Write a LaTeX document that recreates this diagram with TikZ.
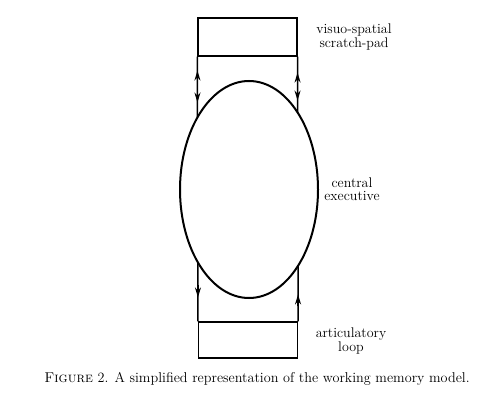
\documentclass[tikz,border=0pt]{standalone}
\usetikzlibrary{arrows.meta,shapes.geometric,intersections,calc}
\begin{document}
\begin{tikzpicture}[x=1pt,y=-1pt,
  boxstyle/.style={draw,line width=1.1pt,minimum width=99pt,minimum height=38pt,inner sep=0pt},
  wire/.style={line width=1.5pt},
  tipline/.style={line width=1.5pt,-{Stealth[length=10pt,width=6pt]}},
  lab/.style={font=\fontsize{14}{13.5}\selectfont,align=center}]
\useasboundingbox (0,0) rectangle (478,403);
% central executive
\node[draw,ellipse,line width=2pt,minimum width=138pt,minimum height=217pt,inner sep=0pt,name path=ce] (ce) at (249,189.5) {};
% boxes
\node[boxstyle] (vs) at (247.5,37) {};
\node[boxstyle,minimum height=36pt] (al) at (248,340) {};
% intersections with the ellipse
\path[name path=ltop] (vs.south west) -- ++(0,90);
\path[name path=rtop] (vs.south east) -- ++(0,90);
\path[name path=lbot] (al.north west) -- ++(0,-90);
\path[name path=rbot] (al.north east) -- ++(0,-90);
\path[name intersections={of=ce and ltop,by=ilt}];
\path[name intersections={of=ce and rtop,by=irt}];
\path[name intersections={of=ce and lbot,by=ilb}];
\path[name intersections={of=ce and rbot,by=irb}];
% arrow tip points
\coordinate (ltu) at ($(vs.south west)+(0,14)$);
\coordinate (ltd) at ($(vs.south west)+(0,46)$);
\coordinate (rtu) at ($(vs.south east)+(0,16)$);
\coordinate (rtd) at ($(vs.south east)+(0,44)$);
\coordinate (lbd) at ($(al.north west)+(0,-24)$);
\coordinate (rbu) at ($(al.north east)+(0,-27)$);
% connectors
\draw[wire] (vs.south west) -- (ilt);
\draw[wire] (vs.south east) -- (irt);
\draw[wire] (ilb) -- (al.north west);
\draw[wire] (al.north east) -- (irb);
% arrowheads
\draw[tipline] ($(ltu)+(0,12)$) -- (ltu);
\draw[tipline] ($(ltd)+(0,-12)$) -- (ltd);
\draw[tipline] ($(rtu)+(0,12)$) -- (rtu);
\draw[tipline] ($(rtd)+(0,-12)$) -- (rtd);
\draw[tipline] ($(lbd)+(0,-12)$) -- (lbd);
\draw[tipline] ($(rbu)+(0,12)$) -- (rbu);
% labels
\node[lab] (tvs) at (354,37) {visuo-spatial\\scratch-pad};
\node[lab] (tce) at (352,189) {central\\executive};
\node[lab] (tal) at (351,341) {articulatory\\loop};
\node[font=\fontsize{14.2}{15}\selectfont] (cap) at (257,379) {\textsc{Figure} 2. A simplified representation of the working memory model.};
\end{tikzpicture}
\end{document}
